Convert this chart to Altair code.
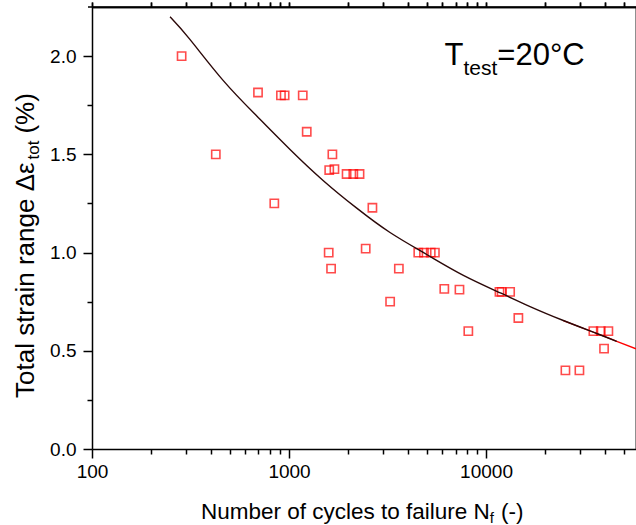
import altair as alt
import pandas as pd

# ---- data ----
cycles = [285, 425, 696, 910, 950, 1174, 1230, 842, 1660, 1600, 1700, 1960, 2120, 2280,
          2650, 1590, 1635, 2450, 3610, 3260, 4530, 4840, 5240, 5500, 6140, 7330, 8130,
          11700, 12000, 13250, 14590, 35060, 38220, 41780, 39720, 25290, 29780]
strain = [2.0, 1.5, 1.815, 1.8, 1.8, 1.8, 1.615, 1.25, 1.5, 1.42, 1.425, 1.4, 1.4, 1.4,
          1.228, 1.0, 0.918, 1.02, 0.918, 0.75, 1.0, 1.0, 1.0, 1.0, 0.815, 0.811, 0.6,
          0.8, 0.8, 0.8, 0.667, 0.6, 0.6, 0.6, 0.511, 0.4, 0.4]

fit_cycles = [249, 314, 464, 686, 1012, 1494, 2207, 3256, 5000, 7674, 11920, 16730,
              24680, 36480, 46080]
fit_strain = [2.20, 2.085, 1.875, 1.695, 1.525, 1.366, 1.226, 1.102, 0.99, 0.884, 0.793,
              0.725, 0.654, 0.588, 0.548]
tail_cycles = [24680, 36480, 46080, 57700]
tail_strain = [0.654, 0.588, 0.548, 0.51]

x_major = [100, 1000, 10000]
x_minor = [200, 300, 400, 500, 600, 700, 800, 900,
           2000, 3000, 4000, 5000, 6000, 7000, 8000, 9000,
           20000, 30000, 40000, 50000]
y_major = [0.0, 0.5, 1.0, 1.5, 2.0]
y_minor = [0.25, 0.75, 1.25, 1.75]

x_domain = [100, 57700]
y_domain = [0, 2.25]

# ---- layout ----
W, H = 544, 442
FONT = "Liberation Sans"
LBL = 19

xs = alt.Scale(type="log", domain=x_domain, nice=False)
ys = alt.Scale(domain=y_domain, nice=False, zero=False)

pts = pd.DataFrame({"N": cycles, "S": strain})
fit = pd.DataFrame({"N": fit_cycles, "S": fit_strain})
tail = pd.DataFrame({"N": tail_cycles, "S": tail_strain})

x_axis_major = alt.Axis(values=x_major, format="d", tickSize=9, labelPadding=4,
                        labelFlush=False, labelOverlap=False,
                        labelFont=FONT, labelFontSize=LBL, labelColor="black",
                        title=None, grid=False, orient="bottom")
y_axis_major = alt.Axis(values=y_major, format=".1f", tickSize=9, labelPadding=7,
                        labelFlush=False, labelOverlap=False,
                        labelFont=FONT, labelFontSize=LBL, labelColor="black",
                        title=None, grid=False, orient="left")
x_axis_minor = alt.Axis(values=x_minor, labels=False, domain=False, tickSize=5,
                        title=None, grid=False, orient="bottom")
y_axis_minor = alt.Axis(values=y_minor, labels=False, domain=False, tickSize=5,
                        title=None, grid=False, orient="left")

points = alt.Chart(pts).mark_point(
    shape="square", filled=False, color="#ff0000", size=68, strokeWidth=1.6, clip=True
).encode(
    x=alt.X("N:Q", scale=xs, axis=x_axis_major),
    y=alt.Y("S:Q", scale=ys, axis=y_axis_major),
)

minor = alt.Chart(pts).mark_point(opacity=0).encode(
    x=alt.X("N:Q", scale=xs, axis=x_axis_minor),
    y=alt.Y("S:Q", scale=ys, axis=y_axis_minor),
)

tail_line = alt.Chart(tail).mark_line(color="#ff0000", strokeWidth=1.3, clip=True,
                                       interpolate="natural").encode(
    x=alt.X("N:Q", scale=xs), y=alt.Y("S:Q", scale=ys))

fit_line = alt.Chart(fit).mark_line(color="#2b0808", strokeWidth=1.4, clip=True,
                                     interpolate="natural").encode(
    x=alt.X("N:Q", scale=xs), y=alt.Y("S:Q", scale=ys))

one = pd.DataFrame({"a": [0]})

top_border = alt.Chart(one).mark_rule(color="black", strokeWidth=1.5).encode(
    x=alt.value(-4), x2=alt.value(W), y=alt.value(0))


def txt(s, x, y, size, angle=0):
    kw = dict(text=s, font=FONT, fontSize=size, align="left", baseline="alphabetic",
              color="black")
    if angle:
        kw["angle"] = angle
    return alt.Chart(one).mark_text(**kw).encode(x=alt.value(x), y=alt.value(y))


# x-axis title: Number of cycles to failure N_f (-)
xt = 22.5
x0 = 109
xb = 512.3
p1 = "Number of cycles to failure N"
x_f = x0 + (12.115 + 0.722) * xt
x_rest = x_f + 0.278 * 15 + 7
xtitle = [txt(p1, x0, xb, xt), txt("f", x_f, xb + 4, 15),
          txt("(-)", x_rest, xb, xt)]

# y-axis title: Total strain range Δε_tot (%)
yt = 26
yx = -58.5
y0 = 391
y_sub = y0 - 9.173 * yt
y_rest = y_sub - 1.112 * 17 - 7
ytitle = [txt("Total strain range Δε", yx, y0, yt, 270),
          txt("tot", yx + 5, y_sub, 17, 270),
          txt("(%)", yx, y_rest, yt, 270)]

# annotation T_test=20°C
tx, tb = 352.5, 58
ann = [txt("T", tx, tb, 31), txt("test", tx + 0.611 * 31, tb + 10, 21),
       txt("=20°C", tx + 0.611 * 31 + 1.612 * 21, tb, 31)]

chart = alt.layer(
    minor, points, tail_line, fit_line, top_border, *xtitle, *ytitle, *ann
).resolve_axis(x="independent", y="independent").properties(
    width=W, height=H,
    autosize=alt.AutoSizeParams(type="none"),
    padding={"left": 92, "top": 7, "right": 0, "bottom": 76},
).configure_view(stroke=None).configure_axis(
    labelFont=FONT, labelFontSize=LBL, labelColor="black",
    domainColor="black", domainWidth=1.5, tickColor="black", tickWidth=1.5,
)

chart.save("out.html", embed_options={"renderer": "svg", "actions": False})
